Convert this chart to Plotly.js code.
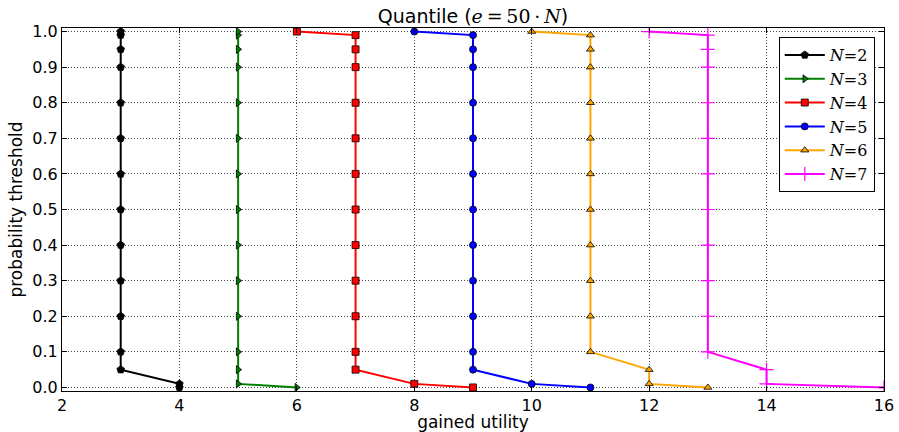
<!DOCTYPE html>
<html><head><meta charset="utf-8">
<script src="https://cdn.plot.ly/plotly-3.0.1.min.js"></script>
<style>html,body{margin:0;padding:0;background:#fff}#chart{width:899px;height:432px}</style>
</head><body><div id="chart"></div>
<script>
const thresholds = [0.0, 0.01, 0.05, 0.1, 0.2, 0.3, 0.4, 0.5, 0.6, 0.7, 0.8, 0.9, 0.95, 0.99, 1.0];
const seriesNames = ["N=2", "N=3", "N=4", "N=5", "N=6", "N=7"];
const utilN2 = [4, 4, 3, 3, 3, 3, 3, 3, 3, 3, 3, 3, 3, 3, 3];
const utilN3 = [6, 5, 5, 5, 5, 5, 5, 5, 5, 5, 5, 5, 5, 5, 5];
const utilN4 = [9, 8, 7, 7, 7, 7, 7, 7, 7, 7, 7, 7, 7, 7, 6];
const utilN5 = [11, 10, 9, 9, 9, 9, 9, 9, 9, 9, 9, 9, 9, 9, 8];
const utilN6 = [13, 12, 12, 11, 11, 11, 11, 11, 11, 11, 11, 11, 11, 11, 10];
const utilN7 = [16, 14, 14, 13, 13, 13, 13, 13, 13, 13, 13, 13, 13, 13, 12];
const colors = ["#000000", "#008000", "#ff0000", "#0000ff", "#ffa500", "#ff00ff"];
const symbols = ["pentagon", "triangle-right", "square", "circle", "triangle-up", "cross-thin"];
const allUtil = [utilN2, utilN3, utilN4, utilN5, utilN6, utilN7];

const serif = "DejaVu Serif";
function mathName(n) {
  const parts = n.split("=");
  return '<span style="font-family:' + serif + '"><i>' + parts[0] + '</i>=' + parts[1] + '</span>';
}

const traces = allUtil.map((u, i) => ({
  x: u, y: thresholds, type: "scatter", mode: "lines+markers",
  name: mathName(seriesNames[i]),
  line: {color: colors[i], width: 2},
  marker: {
    symbol: symbols[i], color: colors[i],
    size: i === 5 ? 10 : (i === 0 ? 8 : 7),
    line: i === 5 ? {color: colors[i], width: 1.2} : {color: "#000", width: 0.8}
  }
}));

const axisCommon = {
  showline: true, mirror: "ticks", linecolor: "#000", linewidth: 1,
  ticks: "inside", ticklen: 5, tickcolor: "#000",
  showgrid: true, gridcolor: "#444", griddash: "1px,2px", gridwidth: 1,
  zeroline: false,
  tickfont: {family: "DejaVu Sans", size: 16, color: "#000"}
};

const layout = {
  width: 899, height: 432,
  margin: {l: 62, r: 15, t: 28, b: 41},
  paper_bgcolor: "#fff", plot_bgcolor: "#fff",
  title: {text: 'Quantile (<span style="font-family:' + serif + '"><i>e</i>\u2009=\u200950\u2009·\u2009<i>N</i></span>)',
          font: {family: "DejaVu Sans", size: 19, color: "#000"}, xref: "paper", x: 0.5, xanchor: "center",
          yref: "container", y: 0.962, yanchor: "middle"},
  xaxis: Object.assign({}, axisCommon, {
    range: [2, 16], dtick: 2, tick0: 2,
    title: {text: "gained utility", font: {family: "DejaVu Sans", size: 17, color: "#000"}, standoff: 2}
  }),
  yaxis: Object.assign({}, axisCommon, {
    range: [-0.01, 1.01], tickvals: [0,0.1,0.2,0.3,0.4,0.5,0.6,0.7,0.8,0.9,1.0],
    ticktext: ["0.0","0.1","0.2","0.3","0.4","0.5","0.6","0.7","0.8","0.9","1.0"],
    title: {text: "probability threshold", font: {family: "DejaVu Sans", size: 17, color: "#000"}, standoff: 5}
  }),
  legend: {
    x: 0.872, y: 0.975, xanchor: "left", yanchor: "top",
    bgcolor: "#fff", bordercolor: "#000", borderwidth: 1,
    font: {family: serif, size: 16, color: "#000"},
    tracegroupgap: 0, itemwidth: 40
  },
  showlegend: true
};

Plotly.newPlot("chart", traces, layout, {staticPlot: true, displayModeBar: false});
</script>
</body></html>
